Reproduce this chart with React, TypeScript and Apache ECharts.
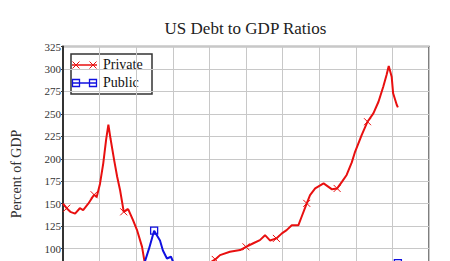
import React, { useEffect, useRef } from "react";
import * as echarts from "echarts";

const titleText = "US Debt to GDP Ratios";
const yAxisTitle = "Percent of GDP";
const seriesNames = ["Private", "Public"];

const privateYears = [
  1920, 1921, 1922, 1923.3, 1924.6, 1925.5, 1926.9, 1928.5, 1929.2, 1930.1,
  1931, 1931.8, 1932.4, 1933, 1934, 1934.8, 1935.6, 1936.6, 1937.8, 1939.1,
  1940.2, 1941.6, 1942.3, 1943, 1944, 1944.9, 1946, 1948, 1950, 1953.2,
  1956, 1958, 1960, 1961.6, 1962.9, 1965.6, 1968.4, 1970, 1972, 1973.8,
  1975.2, 1976.6, 1978.3, 1979.8, 1981.1, 1982.5, 1984.3, 1985.2, 1986.6, 1987.5,
  1988.9, 1991.2, 1993.5, 1994.9, 1996.2, 1997.5, 1998.9, 1999.8, 2001.6, 2003.2,
  2004.8, 2006.2, 2007.5, 2008.4, 2009, 2009.8, 2010.2, 2011.2, 2011.5,
];
const privateValues = [
  150, 145, 141, 139, 145, 143, 150, 160, 157.5, 172,
  195, 222, 238, 222, 198, 180, 165, 141, 144, 132,
  121, 102, 85, 72, 58, 52, 50, 55, 60, 68,
  75, 80, 84, 88, 92.8, 96.5, 98.4, 102, 106, 109.5,
  115, 109, 111.4, 117, 120.6, 126, 126, 135.5, 150.4, 159.6,
  167, 172.7, 166, 167, 174.4, 182, 196, 207.8, 226.4, 241.3,
  250.6, 263.5, 280.2, 293.3, 303.3, 291.4, 272.9, 259.9, 257.3,
];
const privateMarkerYears = [1921, 1928.5, 1936.6, 1944.9, 1953.2, 1961.6, 1970, 1978.3, 1986.6, 1994.9, 2003.2];

const publicYears = [
  1920, 1925, 1929, 1932, 1935, 1940, 1941.5, 1942.4, 1943.5, 1944.9,
  1946.5, 1947.3, 1948.4, 1949.5, 1950, 1953.2, 1956, 1960, 1961.6, 1965,
  1970, 1975, 1978.3, 1982, 1986.6, 1990, 1994.9, 2000, 2003.2, 2007,
  2008.5, 2010, 2011.5,
];
const publicValues = [
  30, 22, 16, 35, 40, 50, 60, 86, 100, 120,
  109, 98, 89, 91, 86, 70, 62, 55, 52, 45,
  37, 33, 33, 35, 48, 55, 66, 57, 61, 64,
  72, 80, 84,
];
const publicMarkerYears = [1944.9, 1953.2, 1961.6, 1970, 1978.3, 1986.6, 1994.9, 2003.2, 2011.5];

const xMin = 1920;
const xMax = 2020;
const xStep = 10;
const yMin = 0;
const yMax = 325;
const yStep = 25;
const yLowestVisibleLabel = 100;

const RED = "#e81010";
const BLUE = "#1010e0";
const SERIF = "Liberation Serif";
const CROSS = "path://M0 0L10 10M10 0L0 10";

export default function App() {
  const ref = useRef<HTMLDivElement>(null);

  useEffect(() => {
    if (!ref.current) return;
    const chart = echarts.init(ref.current, null, { renderer: "svg" });

    const privateData = privateYears.map((y, i) => [y, privateValues[i]]);
    const publicData = publicYears.map((y, i) => [y, publicValues[i]]);

    const legendCross = (cx: number, cy: number) => [
      { type: "line", shape: { x1: cx - 3.5, y1: cy - 3.5, x2: cx + 3.5, y2: cy + 3.5 }, style: { stroke: RED, lineWidth: 1 } },
      { type: "line", shape: { x1: cx + 3.5, y1: cy - 3.5, x2: cx - 3.5, y2: cy + 3.5 }, style: { stroke: RED, lineWidth: 1 } },
    ];
    const legendSquare = (cx: number, cy: number) => ({
      type: "rect",
      shape: { x: cx - 3.5, y: cy - 3.5, width: 7, height: 7 },
      style: { fill: "none", stroke: BLUE, lineWidth: 1.3 },
    });

    chart.setOption({
      animation: false,
      backgroundColor: "#ffffff",
      textStyle: { fontFamily: SERIF },
      grid: {
        left: 63,
        top: 46.5,
        width: 366,
        height: 292,
        show: true,
        borderColor: "#555",
        borderWidth: 1.5,
        backgroundColor: "transparent",
      },
      xAxis: {
        type: "value",
        min: xMin,
        max: xMax,
        interval: xStep,
        axisLine: { show: true, lineStyle: { color: "#333", width: 1.5 } },
        axisTick: { show: false },
        axisLabel: { show: false },
        splitLine: { show: true, lineStyle: { color: "#c8c8c8", width: 1 } },
      },
      yAxis: {
        type: "value",
        min: yMin,
        max: yMax,
        interval: yStep,
        axisLine: { show: true, lineStyle: { color: "#333", width: 2 } },
        axisTick: { show: true, length: 2, lineStyle: { color: "#333" } },
        axisLabel: {
          color: "#333",
          fontSize: 11,
          fontFamily: SERIF,
          margin: 2,
          formatter: (v: number) => (v >= yLowestVisibleLabel ? String(v) : ""),
        },
        splitLine: { show: true, lineStyle: { color: "#c8c8c8", width: 1 } },
      },
      series: [
        {
          name: seriesNames[0],
          type: "line",
          data: privateData,
          showSymbol: true,
          showAllSymbol: true,
          symbol: (v: number[]) => (privateMarkerYears.includes(v[0]) ? CROSS : "none"),
          symbolSize: 7,
          itemStyle: { color: "none", borderColor: RED, borderWidth: 1 },
          lineStyle: { color: RED, width: 2 },
          z: 3,
        },
        {
          name: seriesNames[1],
          type: "line",
          data: publicData,
          showSymbol: true,
          showAllSymbol: true,
          symbol: (v: number[]) => (publicMarkerYears.includes(v[0]) ? "rect" : "none"),
          symbolSize: 7,
          itemStyle: { color: "none", borderColor: BLUE, borderWidth: 1.3 },
          lineStyle: { color: BLUE, width: 2 },
          z: 3,
        },
      ],
      graphic: [
        {
          type: "text",
          x: 245.5,
          y: 28,
          style: {
            text: titleText,
            fontSize: 17,
            fontFamily: SERIF,
            fill: "#222",
            align: "center",
            verticalAlign: "middle",
          },
        },
        {
          type: "text",
          x: 16,
          y: 174,
          rotation: Math.PI / 2,
          style: {
            text: yAxisTitle,
            fontSize: 14,
            fontFamily: SERIF,
            fill: "#333",
            align: "center",
            verticalAlign: "middle",
          },
        },
        {
          type: "group",
          z: 100,
          children: [
            {
              type: "rect",
              shape: { x: 71, y: 54, width: 81, height: 40 },
              style: { fill: "#fff", stroke: "#333", lineWidth: 1.5 },
            },
            { type: "line", shape: { x1: 72, y1: 65, x2: 97, y2: 65 }, style: { stroke: RED, lineWidth: 1.5 } },
            ...legendCross(76, 65),
            ...legendCross(93, 65),
            {
              type: "text",
              x: 103,
              y: 64.5,
              style: { text: seriesNames[0], fontSize: 14, fontFamily: SERIF, fill: "#111", verticalAlign: "middle" },
            },
            { type: "line", shape: { x1: 72, y1: 83, x2: 97, y2: 83 }, style: { stroke: BLUE, lineWidth: 1.5 } },
            legendSquare(76, 83),
            legendSquare(93, 83),
            {
              type: "text",
              x: 103,
              y: 82.5,
              style: { text: seriesNames[1], fontSize: 14, fontFamily: SERIF, fill: "#111", verticalAlign: "middle" },
            },
          ],
        },
      ],
    });

    return () => chart.dispose();
  }, []);

  return (
    <div style={{ position: "absolute", left: 0, top: 0, width: 450, height: 261, overflow: "hidden" }}>
      <div ref={ref} style={{ width: 450, height: 370 }} />
    </div>
  );
}
